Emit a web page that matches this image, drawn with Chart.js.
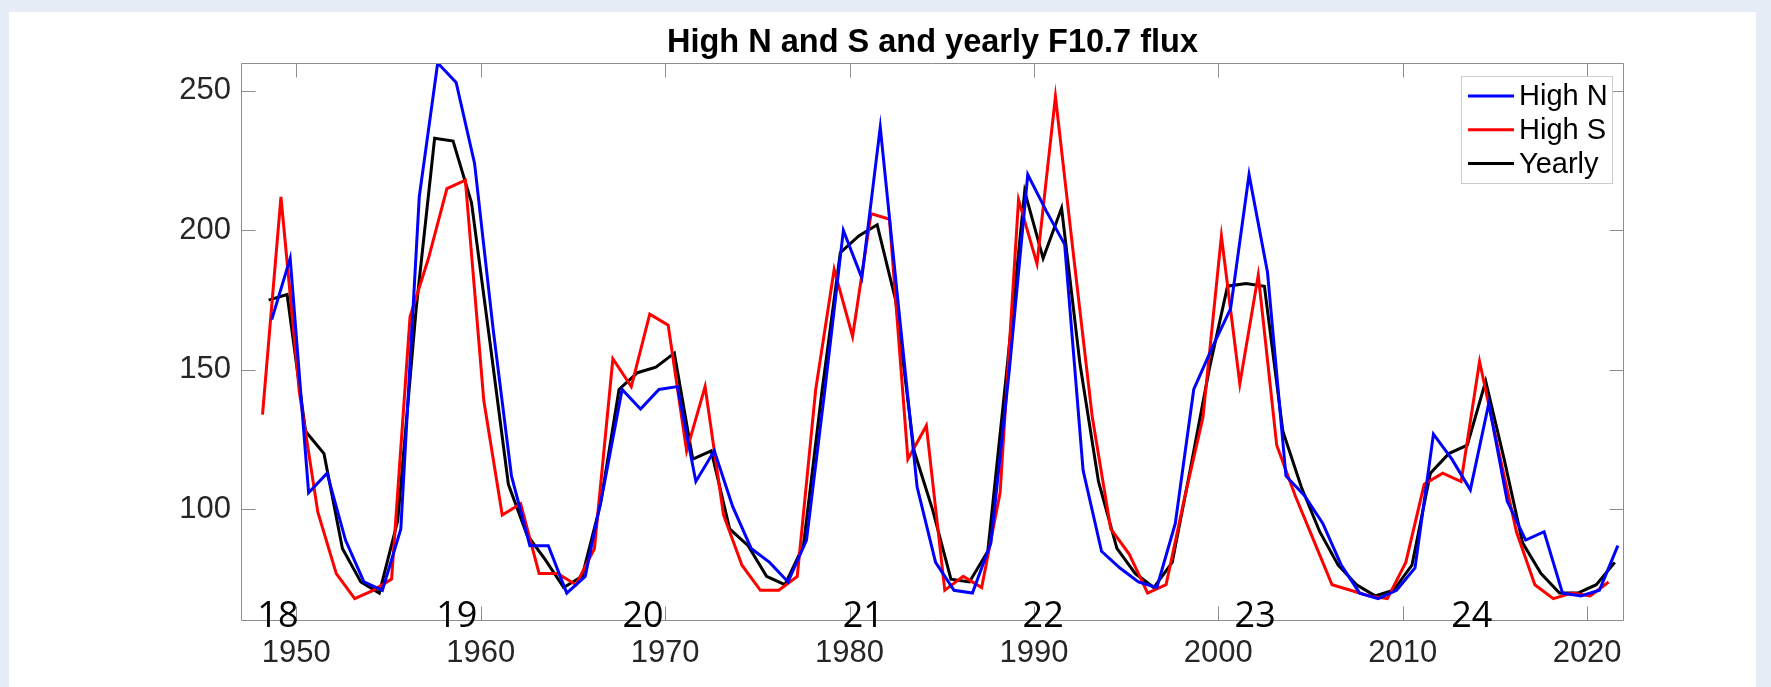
<!DOCTYPE html>
<html>
<head>
<meta charset="utf-8">
<title>High N and S and yearly F10.7 flux</title>
<script src="https://cdn.jsdelivr.net/npm/chart.js@4.4.1/dist/chart.umd.min.js"></script>
<style>
    html, body { margin: 0; padding: 0; }
    body { background: #e6edf7; width: 1771px; height: 687px; overflow: hidden; position: relative; }
    .panel { position: absolute; left: 9px; top: 12px; width: 1747px; height: 675px; background: #ffffff; }
    #flux-chart { display: block; }
</style>
</head>
<body>
<div class="panel"><canvas id="flux-chart" width="1747" height="675"></canvas></div>
<script>
// Data
var years = [1948, 1949, 1950, 1951, 1952, 1953, 1954, 1955, 1956, 1957,
             1958, 1959, 1960, 1961, 1962, 1963, 1964, 1965, 1966, 1967,
             1968, 1969, 1970, 1971, 1972, 1973, 1974, 1975, 1976, 1977,
             1978, 1979, 1980, 1981, 1982, 1983, 1984, 1985, 1986, 1987,
             1988, 1989, 1990, 1991, 1992, 1993, 1994, 1995, 1996, 1997,
             1998, 1999, 2000, 2001, 2002, 2003, 2004, 2005, 2006, 2007,
             2008, 2009, 2010, 2011, 2012, 2013, 2014, 2015, 2016, 2017,
             2018, 2019, 2020, 2021];

var highN = [168, 190, 106, 113, 89, 74, 71, 93, 212, 260,
             253, 224, 165, 112, 87, 87, 70, 76, 108, 143,
             136, 143, 144, 110, 121, 101, 86, 81, 74, 89,
             143, 200, 183, 237, 172, 108, 81, 71, 70, 88,
             150, 220, 207, 195, 114, 85, 79, 74, 72, 95,
             143, 158, 172, 220, 185, 112, 105, 95, 80, 70,
             68, 71, 79, 127, 118, 107, 138, 103, 89, 92,
             70, 69, 71, 87];

var highS = [134, 212, 142, 99, 77, 68, 71, 75, 169, 190,
             215, 218, 139, 98, 102, 77, 77, 73, 86, 154,
             144, 170, 166, 121, 144, 98, 80, 71, 71, 76,
             143, 186, 162, 206, 204, 118, 130, 71, 76, 72,
             106, 211, 188, 248, 190, 133, 93, 84, 70, 73,
             104, 133, 198, 145, 184, 123, 105, 89, 73, 71,
             69, 68, 81, 109, 113, 110, 153, 122, 92, 73,
             68, 70, 69, 74];

var yearly = [175, 177, 128, 120, 86, 74, 70, 96, 172, 233,
              232, 210, 160, 109, 91, 82, 72, 76, 102, 143,
              149, 151, 156, 118, 121, 93, 87, 76, 73, 87,
              142, 192, 198, 202, 175, 121, 100, 75, 74, 85,
              148, 214, 190, 208, 152, 110, 86, 77, 72, 81,
              115, 150, 180, 181, 180, 128, 108, 92, 80, 73,
              69, 71, 80, 113, 120, 123, 146, 118, 88, 77,
              70, 70, 73, 81];

var xTicks = [1950, 1960, 1970, 1980, 1990, 2000, 2010, 2020];
var yTicks = [100, 150, 200, 250];

// solar cycle numbers and the year they are written at
var cycles = ["18", "19", "20", "21", "22", "23", "24"];
var cycleAt = [1949.0, 1958.7, 1968.8, 1980.75, 1990.5, 2002.0, 2013.75];


// where in the year each series is plotted
var offsetN = 2 / 3;
var offsetS = 1 / 6;
var offsetYearly = 0.5;

var FONT = "'Liberation Sans', Arial, Helvetica, sans-serif";

function toPoints(values, offset) {
    return values.map(function (v, i) {
        return { x: years[i] + offset, y: v };
    });
}


// Box with inward tick marks on all four sides
var axesBox = {
    id: 'axesBox',
    afterDatasetsDraw: function (chart) {
        var ctx = chart.ctx;
        var a = chart.chartArea;
        var sx = chart.scales.x;
        var sy = chart.scales.y;
        var L = Math.round(a.left) + 0.5, R = Math.round(a.right) - 0.5;
        var T = Math.round(a.top) + 0.5, B = Math.round(a.bottom) - 0.5;
        var len = 14;

        ctx.save();
        ctx.strokeStyle = '#8e8e8e';
        ctx.lineWidth = 1;
        ctx.beginPath();
        ctx.rect(L, T, R - L, B - T);
        yTicks.forEach(function (v) {
            var py = Math.round(sy.getPixelForValue(v)) + 0.5;
            ctx.moveTo(L, py); ctx.lineTo(L + len, py);
            ctx.moveTo(R, py); ctx.lineTo(R - len, py);
        });
        xTicks.forEach(function (v) {
            var px = Math.round(sx.getPixelForValue(v)) + 0.5;
            ctx.moveTo(px, T); ctx.lineTo(px, T + len);
            ctx.moveTo(px, B); ctx.lineTo(px, B - len);
        });
        ctx.stroke();

        // cycle numbers along the bottom
        ctx.fillStyle = '#000000';
        ctx.font = "36px 'Open Sans', 'Noto Sans', sans-serif";
        ctx.textAlign = 'center';
        ctx.textBaseline = 'alphabetic';
        cycles.forEach(function (c, i) {
            ctx.fillText(c, sx.getPixelForValue(cycleAt[i]), a.bottom + 6);
        });
        ctx.restore();
    }
};


// Legend box in the top right corner
var cornerLegend = {
    id: 'cornerLegend',
    afterDraw: function (chart) {
        var ctx = chart.ctx;
        var a = chart.chartArea;
        var sets = chart.data.datasets;
        ctx.save();
        ctx.font = '29px ' + FONT;
        var tw = 0;
        sets.forEach(function (d) { tw = Math.max(tw, ctx.measureText(d.label).width); });
        var w = Math.round(58 + tw + 4), h = 107;
        var x0 = Math.round(a.right) - 12 - w, y0 = Math.round(a.top) + 13;

        ctx.fillStyle = '#ffffff';
        ctx.fillRect(x0, y0, w, h);
        ctx.strokeStyle = '#cccccc';
        ctx.lineWidth = 1;
        ctx.strokeRect(x0 + 0.5, y0 + 0.5, w, h);

        ctx.textAlign = 'left';
        ctx.textBaseline = 'middle';
        sets.forEach(function (d, i) {
            var yy = y0 + 20 + i * 33.8;
            ctx.strokeStyle = d.borderColor;
            ctx.lineWidth = d.borderWidth;
            ctx.beginPath();
            ctx.moveTo(x0 + 7, yy);
            ctx.lineTo(x0 + 53, yy);
            ctx.stroke();
            ctx.fillStyle = '#000000';
            ctx.fillText(d.label, x0 + 58, yy + 1);
        });
        ctx.restore();
    }
};


var ctx1 = document.getElementById('flux-chart').getContext('2d');
var fluxChart = new Chart(ctx1, {
    type: 'line',
    data: {
        datasets: [{
                label: 'High N',
                data: toPoints(highN, offsetN),
                borderColor: '#0000ff',
                borderWidth: 3
            },
            {
                label: 'High S',
                data: toPoints(highS, offsetS),
                borderColor: '#ff0000',
                borderWidth: 3
            },
            {
                label: 'Yearly',
                data: toPoints(yearly, offsetYearly),
                borderColor: '#000000',
                borderWidth: 3
            }
        ]
    },
    options: {
        responsive: false,
        animation: false,
        devicePixelRatio: 1,
        elements: {
            point: { radius: 0, hoverRadius: 0 },
            line: { tension: 0, fill: false }
        },
        layout: {
            padding: { left: 0, top: 0, right: 132, bottom: 0 }
        },
        plugins: {
            legend: { display: false },
            tooltip: { enabled: false },
            title: {
                display: true,
                fullSize: false,
                text: 'High N and S and yearly F10.7 flux',
                color: '#000000',
                font: { family: FONT, size: 32.5, weight: 'bold', lineHeight: 1 },
                padding: { top: 14.5, bottom: 4 }
            }
        },
        scales: {
            x: {
                type: 'linear',
                min: 1947,
                max: 2022,
                grid: { display: false, drawTicks: false },
                border: { display: false },
                afterBuildTicks: function (s) {
                    s.ticks = xTicks.map(function (v) { return { value: v }; });
                },
                afterFit: function (s) { s.height = 66; },
                ticks: {
                    padding: 14,
                    maxRotation: 0,
                    autoSkip: false,
                    color: '#262626',
                    font: { family: FONT, size: 31 },
                    callback: function (v) { return String(v); }
                }
            },
            y: {
                min: 60,
                max: 260,
                grid: { display: false, drawTicks: false },
                border: { display: false },
                afterBuildTicks: function (s) {
                    s.ticks = yTicks.map(function (v) { return { value: v }; });
                },
                afterFit: function (s) { s.width = 232; },
                ticks: {
                    padding: 10,
                    color: '#262626',
                    font: { family: FONT, size: 31 },
                    callback: function (v) { return String(v); }
                }
            }
        }
    },
    plugins: [axesBox, cornerLegend]
});
</script>
</body>
</html>
